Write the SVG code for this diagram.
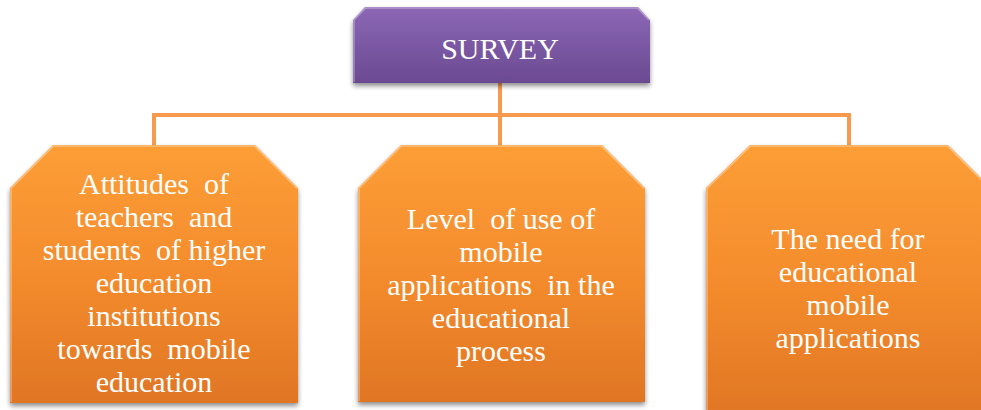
<svg xmlns="http://www.w3.org/2000/svg" width="981" height="410" viewBox="0 0 981 410">
  <defs>
    <linearGradient id="gPurple" x1="0" y1="0" x2="0" y2="1">
      <stop offset="0" stop-color="#8c67b5"/>
      <stop offset="0.5" stop-color="#7b58a4"/>
      <stop offset="1" stop-color="#6b4a91"/>
    </linearGradient>
    <linearGradient id="gOrange" x1="0" y1="0" x2="0" y2="1">
      <stop offset="0" stop-color="#fc9e36"/>
      <stop offset="0.5" stop-color="#f48c2d"/>
      <stop offset="1" stop-color="#e07624"/>
    </linearGradient>
    <filter id="shadow" x="-10%" y="-10%" width="120%" height="125%">
      <feGaussianBlur in="SourceAlpha" stdDeviation="2.5"/>
      <feOffset dx="0" dy="3" result="b"/>
      <feComponentTransfer><feFuncA type="linear" slope="0.45"/></feComponentTransfer>
      <feMerge><feMergeNode/><feMergeNode in="SourceGraphic"/></feMerge>
    </filter>
  </defs>
  <style>
    .conn { fill: none; stroke: #f79a4e; stroke-width: 4; }
    .purple { fill: url(#gPurple); filter: url(#shadow); }
    .orange { fill: url(#gOrange); filter: url(#shadow); }
    .bevelLight { fill: none; stroke: #ffffff; stroke-opacity: 0.35; stroke-width: 1.5; }
    .label { font-family: "Liberation Serif", "Times New Roman", serif; fill: #ffffff; text-anchor: middle; font-size: 30px; white-space: pre; }
  </style>

  <!-- connectors -->
  <g id="connectors">
    <path class="conn" d="M500 83 V115"/>
    <path class="conn" d="M154 147 V115 H849 V147"/>
    <path class="conn" d="M500 115 V147"/>
  </g>

  <!-- root node -->
  <g id="survey">
    <path class="purple" d="M365 7 H638 L650 20 V83 H353 V20 Z"/>
    <path class="bevelLight" d="M354 82 V20 L365.5 8 H637.5 L649 20"/>
    <text class="label" x="500" y="59">SURVEY</text>
  </g>

  <!-- attitudes node -->
  <g id="attitudes">
    <path class="orange" d="M53 145 H255 L298 188 V403 H10 V188 Z"/>
    <path class="bevelLight" d="M11 402 V188.5 L53.5 146 H254.5 L297 188.5"/>
    <text class="label" xml:space="preserve"><tspan x="154" y="194">Attitudes  of</tspan><tspan x="154" y="227">teachers  and</tspan><tspan x="154" y="260">students  of higher</tspan><tspan x="154" y="293">education</tspan><tspan x="154" y="326">institutions</tspan><tspan x="154" y="359">towards  mobile</tspan><tspan x="154" y="392">education</tspan></text>
  </g>

  <!-- level of use node -->
  <g id="level">
    <path class="orange" d="M401 145 H602 L645 188 V402 H358 V188 Z"/>
    <path class="bevelLight" d="M359 401 V188.5 L401.5 146 H601.5 L644 188.5"/>
    <text class="label" xml:space="preserve"><tspan x="501" y="229">Level  of use of</tspan><tspan x="501" y="262">mobile</tspan><tspan x="501" y="295">applications  in the</tspan><tspan x="501" y="328">educational</tspan><tspan x="501" y="361">process</tspan></text>
  </g>

  <!-- need node -->
  <g id="need">
    <path class="orange" d="M750 145 H948 L991 188 V420 H706 V188 Z"/>
    <path class="bevelLight" d="M707 420 V188.5 L750.5 146 H947.5 L990 188.5"/>
    <text class="label" xml:space="preserve"><tspan x="848" y="249">The need for</tspan><tspan x="848" y="282">educational</tspan><tspan x="848" y="315">mobile</tspan><tspan x="848" y="348">applications</tspan></text>
  </g>
</svg>
